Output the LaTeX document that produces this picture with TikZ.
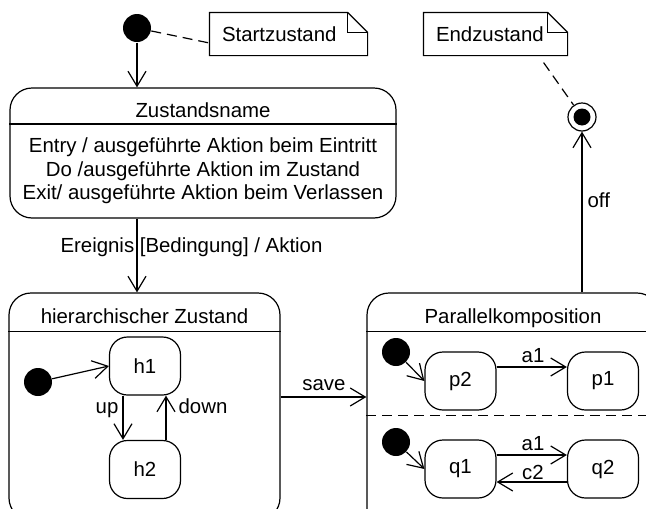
\documentclass[tikz,border=0pt]{standalone}
\usepackage{fontspec}
\setmainfont{Liberation Sans}
\usetikzlibrary{arrows.meta,calc}
\begin{document}
\begin{tikzpicture}[x=1pt,y=-1pt, line width=1.2pt,
  every node/.style={font=\fontsize{20.4}{24}\selectfont},
  trans/.style={-{Straight Barb[length=15pt,width=18pt,line width=1.2pt]}},
  state/.style={draw, rounded corners=18pt, minimum width=71pt, minimum height=58pt, inner sep=0},
  init/.style={circle, fill=black, minimum size=28pt, inner sep=0},
  big/.style={draw, rounded corners=22pt, inner sep=0},
  notebox/.style={inner xsep=12pt, inner ysep=0, minimum height=42pt, align=left},
  notedash/.style={dashed, dash pattern=on 10pt off 6pt},
  lbl/.style={anchor=base, inner sep=0}
]
\clip (0,0) rectangle (646,509);
\fill[white] (0,0) rectangle (646,509);

% start
\node[init] (s0) at (137,28) {};
\node[notebox, text width=133pt] (n1) at (288.5,34) {Startzustand};
\draw (n1.north west) -- ($(n1.north east)+(-20,0)$) -- ($(n1.north east)+(0,20)$) -- (n1.south east) -- (n1.south west) -- cycle;
\draw ($(n1.north east)+(-20,0)$) |- ($(n1.north east)+(0,20)$);
\draw[notedash] (s0) -- ($(n1.west)+(0,9)$);

% Zustandsname
\node[big, minimum width=386pt, minimum height=130pt] (zs) at (203,153) {};
\draw ($(zs.west)+(0,-29)$) -- ($(zs.east)+(0,-29)$);
\node[lbl] (zst) at (203,117) {Zustandsname};
\node[lbl] (zs1) at (203,152) {Entry / ausgeführte Aktion beim Eintritt};
\node[lbl] (zs2) at (203,176) {Do /ausgeführte Aktion im Zustand};
\node[lbl] (zs3) at (203,199) {Exit/ ausgeführte Aktion beim Verlassen};
\draw[trans] (s0) -- (s0 |- zs.north);

% hierarchischer Zustand
\node[big, minimum width=271pt, minimum height=227pt] (hz) at (144.5,406.5) {};
\draw ($(hz.north west)+(0,39)$) -- ($(hz.north east)+(0,39)$);
\node[lbl] (hzt) at (144.5,323) {hierarchischer Zustand};
\draw[trans] (zs.south -| s0) -- (hz.north -| s0);
\node[lbl] (ev) at (191.5,252) {Ereignis [Bedingung] / Aktion};

\node[init] (hi) at (38,382) {};
\node[state] (h1) at (145,366) {h1};
\node[state] (h2) at (145,469.5) {h2};
\draw[trans] (hi) -- (h1.west);
\draw[trans] ($(h1.south)+(-22,0)$) -- ($(h2.north)+(-22,0)$);
\draw[trans] ($(h2.north)+(21,0)$) -- ($(h1.south)+(21,0)$);
\node[lbl, anchor=base east] (up) at (119,413) {up};
\node[lbl, anchor=base west] (down) at (178,413) {down};

% Parallelkomposition
\node[big, minimum width=292pt, minimum height=237pt] (pk) at (513,411.5) {};
\draw ($(pk.north west)+(0,39)$) -- ($(pk.north east)+(0,39)$);
\draw[notedash] ($(pk.north west)+(0,123)$) -- ($(pk.north east)+(0,123)$);
\node[lbl] (pkt) at (513,323) {Parallelkomposition};
\draw[trans] (hz.east |- 0,397) -- (pk.west |- 0,397);
\node[lbl] (save) at (324,390) {save};

\node[init] (pi1) at (396,352) {};
\node[init] (pi2) at (396,442) {};
\node[state] (p2) at (460.5,381) {p2};
\node[state] (p1) at (603,381) {p1};
\node[state] (q1) at (460.5,469) {q1};
\node[state] (q2) at (603,469) {q2};
\draw[trans] (pi1) -- (p2.west);
\draw[trans] (pi2) -- (q1.west);
\draw[trans] ($(p2.east)+(0,-14)$) -- ($(p1.west)+(0,-14)$);
\node[lbl] (a1p) at (533,362) {a1};
\draw[trans] ($(q1.east)+(0,-14)$) -- ($(q2.west)+(0,-14)$);
\node[lbl] (a1q) at (533,450) {a1};
\draw[trans] ($(q2.west)+(0,13)$) -- ($(q1.east)+(0,13)$);
\node[lbl] (c2) at (533,479) {c2};

% final
\node[circle, draw, minimum size=28pt, inner sep=0] (fin) at (582,117) {};
\fill (fin.center) circle (8.5);
\draw[trans] (pk.north -| fin) -- (fin);
\node[lbl, anchor=base west] (off) at (587,207) {off};
\node[notebox, text width=119pt] (n2) at (495.5,34) {Endzustand};
\draw (n2.north west) -- ($(n2.north east)+(-20,0)$) -- ($(n2.north east)+(0,20)$) -- (n2.south east) -- (n2.south west) -- cycle;
\draw ($(n2.north east)+(-20,0)$) |- ($(n2.north east)+(0,20)$);
\draw[notedash] ($(n2.south east)+(-24,7)$) -- (fin);
\end{tikzpicture}
\end{document}
